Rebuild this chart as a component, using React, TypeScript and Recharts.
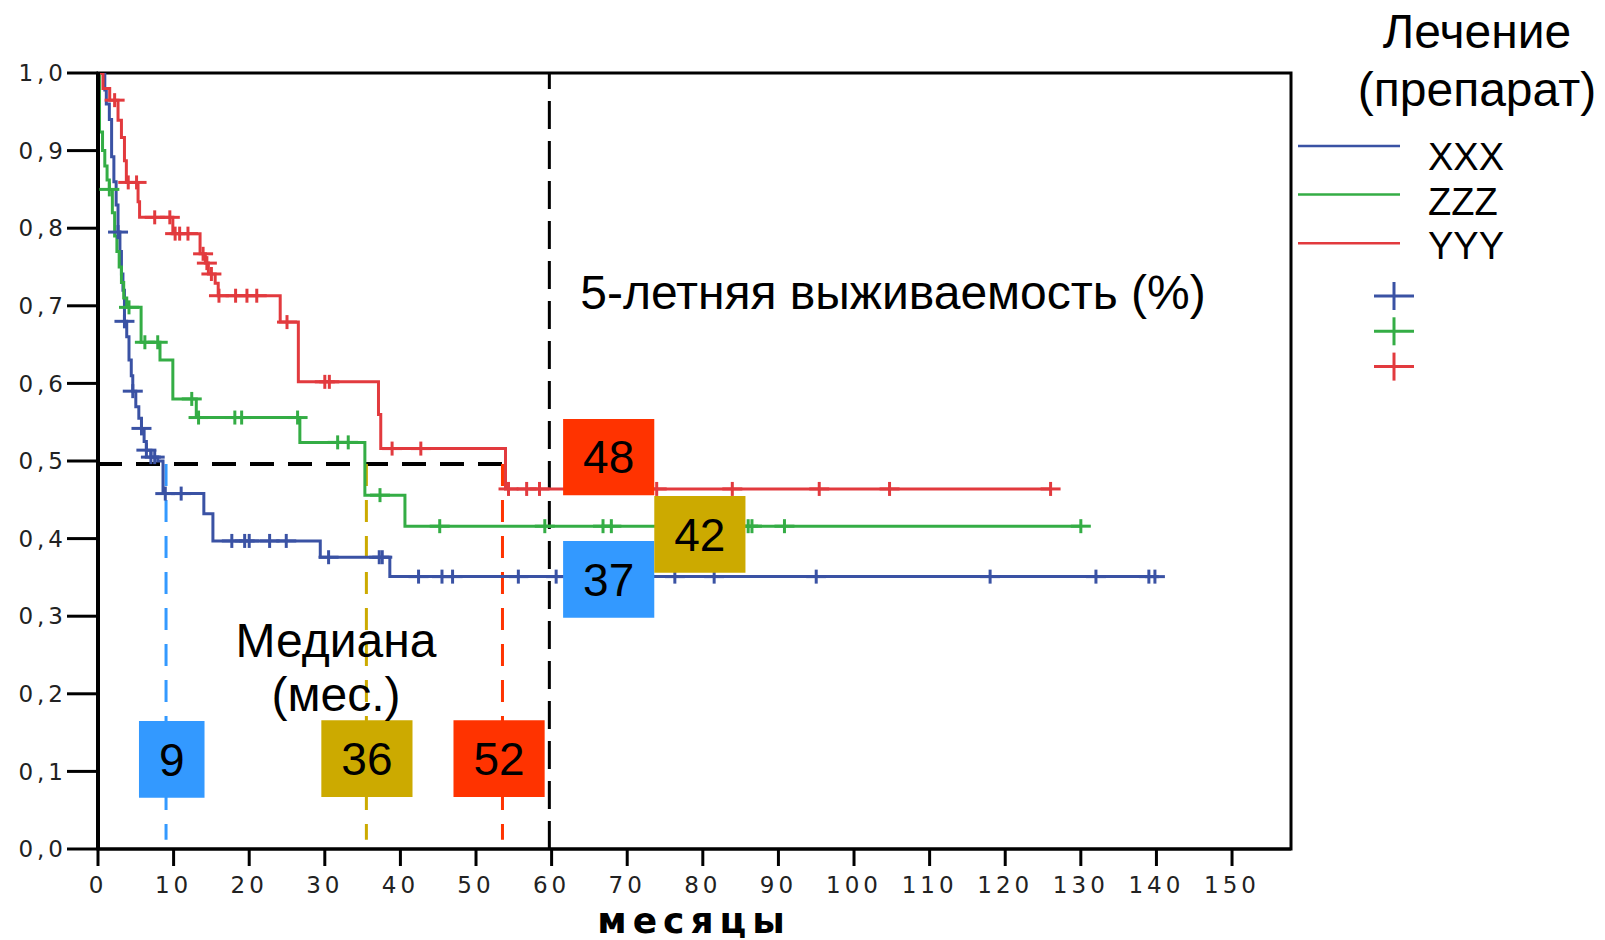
import React from 'react';
import { ComposedChart, Line, Scatter, XAxis, YAxis, ReferenceLine, ReferenceArea } from 'recharts';

const W = 1605;
const H = 940;
const X_MAX = 157.8;

const xTicks = [0, 10, 20, 30, 40, 50, 60, 70, 80, 90, 100, 110, 120, 130, 140, 150];
const yTicks = [0, 0.1, 0.2, 0.3, 0.4, 0.5, 0.6, 0.7, 0.8, 0.9, 1.0];

const seriesNames = ['XXX', 'ZZZ', 'YYY'];
const seriesColors = ['#3a52a4', '#34ad45', '#e23a3e'];

// XXX (blue) Kaplan–Meier steps
const xxxTimes = [0, 0.9, 1.1, 1.5, 1.8, 2.1, 2.4, 2.65, 2.9, 3.1, 3.3, 3.5, 3.8, 4.1, 4.4, 4.6, 5.0, 5.4, 5.75, 6.1, 6.4, 7.0, 7.9, 8.6, 14.0, 15.2, 29.4, 38.6];
const xxxSurv = [1.0, 0.978, 0.96, 0.94, 0.892, 0.86, 0.83, 0.795, 0.77, 0.741, 0.72, 0.68, 0.66, 0.63, 0.61, 0.59, 0.57, 0.555, 0.542, 0.525, 0.514, 0.505, 0.5, 0.458, 0.432, 0.397, 0.376, 0.351];
const xxxCensor = [2.65, 3.5, 4.6, 5.75, 6.4, 7.0, 7.5, 8.9, 11.0, 17.7, 19.4, 20.0, 22.7, 24.9, 30.5, 37.2, 37.6, 42.4, 45.5, 46.9, 55.6, 60.6, 76.3, 81.5, 95.0, 118.0, 132.0, 139.0, 139.8];

// ZZZ (green)
const zzzTimes = [0, 0.2, 0.6, 0.9, 1.2, 1.5, 1.9, 2.2, 2.5, 2.8, 3.1, 3.4, 3.8, 5.7, 8.2, 9.9, 13.0, 26.7, 35.3, 40.6];
const zzzSurv = [1.0, 0.924, 0.9, 0.88, 0.862, 0.85, 0.82, 0.79, 0.77, 0.75, 0.73, 0.71, 0.698, 0.653, 0.63, 0.58, 0.556, 0.524, 0.456, 0.416];
const zzzCensor = [1.5, 4.1, 6.2, 7.9, 12.4, 13.3, 18.1, 19.0, 26.4, 31.7, 33.1, 37.3, 45.2, 59.1, 66.8, 67.9, 86.0, 86.5, 90.8, 130.0];

// YYY (red)
const yyyTimes = [0, 0.66, 1.55, 2.65, 3.1, 3.5, 3.75, 5.3, 5.5, 9.9, 13.5, 14.2, 14.6, 15.5, 15.9, 24.1, 26.5, 37.1, 37.4, 53.9];
const yyySurv = [1.0, 0.98, 0.965, 0.939, 0.917, 0.887, 0.859, 0.834, 0.814, 0.793, 0.767, 0.755, 0.741, 0.729, 0.713, 0.679, 0.602, 0.56, 0.516, 0.464];
const yyyCensor = [2.2, 4.0, 5.1, 7.5, 9.5, 10.2, 10.8, 11.9, 13.9, 14.4, 15.0, 16.0, 18.2, 19.7, 21.0, 25.0, 30.0, 30.6, 38.9, 42.7, 54.3, 56.7, 58.4, 73.9, 83.9, 95.4, 104.7, 126.0];

// Medians (line positions) and labels
const medianLevel = 0.496;
const medianTimes = [9.0, 35.5, 53.5];
const medianLabels = ['9', '36', '52'];
const fiveYearLabels = ['37', '42', '48'];
const fiveYearMonth = 59.7;

const boxColors = ['#3399ff', '#ccaa00', '#ff3300'];

// annotation box layout (data units)
const medianBoxes = [
  { x1: 5.42, x2: 14.09, y1: 0.066, y2: 0.165 },
  { x1: 29.54, x2: 41.6, y1: 0.067, y2: 0.166 },
  { x1: 47.02, x2: 59.08, y1: 0.067, y2: 0.166 },
];
const fiveYearBoxes = [
  { x1: 61.52, x2: 73.58, y1: 0.298, y2: 0.397 },
  { x1: 73.58, x2: 85.64, y1: 0.356, y2: 0.455 },
  { x1: 61.52, x2: 73.58, y1: 0.456, y2: 0.554 },
];

function buildCurve(times: number[], surv: number[], censor: number[]) {
  const pts = times.map((t, i) => ({ t, s: surv[i] }));
  const end = Math.max(times[times.length - 1], ...censor);
  pts.push({ t: end, s: surv[surv.length - 1] });
  return pts;
}
function survAt(times: number[], surv: number[], t: number) {
  let v = surv[0];
  for (let i = 0; i < times.length; i++) if (times[i] <= t) v = surv[i];
  return v;
}
function buildCensor(times: number[], surv: number[], censor: number[]) {
  return censor.map((t) => ({ t, s: survAt(times, surv, t) }));
}

const curves = [
  buildCurve(xxxTimes, xxxSurv, xxxCensor),
  buildCurve(zzzTimes, zzzSurv, zzzCensor),
  buildCurve(yyyTimes, yyySurv, yyyCensor),
];
const censors = [
  buildCensor(xxxTimes, xxxSurv, xxxCensor),
  buildCensor(zzzTimes, zzzSurv, zzzCensor),
  buildCensor(yyyTimes, yyySurv, yyyCensor),
];

const makeCensorShape = (color: string) => (props: any) => {
  const { cx, cy } = props;
  if (cx == null || cy == null) return <g />;
  return (
    <g stroke={color} strokeWidth={3}>
      <line x1={cx - 10} x2={cx + 10} y1={cy} y2={cy} />
      <line x1={cx} x2={cx} y1={cy - 7} y2={cy + 7} />
    </g>
  );
};

const tickFont = { fontFamily: 'DejaVu Sans', fontSize: 23, fill: '#222', letterSpacing: 4 };
const sans = "'Liberation Sans', Arial, sans-serif";

export default function App() {
  return (
    <div style={{ position: 'absolute', left: 0, top: 0, width: W, height: H, background: '#fff' }}>
      <ComposedChart width={W} height={H} margin={{ top: 73, right: 314, bottom: 0, left: 0 }}>
        <XAxis
          type="number"
          dataKey="t"
          domain={[0, X_MAX]}
          ticks={xTicks}
          interval={0}
          allowDataOverflow
          height={91}
          tickSize={17}
          tickMargin={11}
          axisLine={{ stroke: '#000', strokeWidth: 3 }}
          tickLine={{ stroke: '#000', strokeWidth: 3 }}
          tick={tickFont}
        />
        <YAxis
          type="number"
          dataKey="s"
          domain={[0, 1]}
          ticks={yTicks}
          interval={0}
          allowDataOverflow
          width={98}
          tickSize={31}
          tickMargin={0}
          axisLine={{ stroke: '#000', strokeWidth: 4 }}
          tickLine={{ stroke: '#000', strokeWidth: 3 }}
          tick={tickFont}
          tickFormatter={(v: number) => v.toFixed(1).replace('.', ',')}
        />
        <ReferenceArea x1={0} x2={X_MAX} y1={0} y2={1} fill="none" stroke="#000" strokeWidth={3} ifOverflow="visible" />
        <ReferenceLine x={fiveYearMonth} stroke="#000" strokeWidth={3} strokeDasharray="28 12" />
        <ReferenceLine
          segment={[{ x: 0, y: medianLevel }, { x: medianTimes[2], y: medianLevel }]}
          stroke="#000"
          strokeWidth={4}
          strokeDasharray="24 14"
        />
        {medianTimes.map((m, i) => (
          <ReferenceLine
            key={'md' + i}
            segment={[{ x: m, y: medianLevel }, { x: m, y: 0.012 }]}
            stroke={boxColors[i]}
            strokeWidth={3}
            strokeDasharray="22 14"
          />
        ))}
        {curves.map((d, i) => (
          <Line
            key={'l' + i}
            data={d}
            dataKey="s"
            type="stepAfter"
            stroke={seriesColors[i]}
            strokeWidth={3}
            dot={false}
            activeDot={false}
            isAnimationActive={false}
            name={seriesNames[i]}
          />
        ))}
        {censors.map((d, i) => (
          <Scatter
            key={'c' + i}
            data={d}
            dataKey="s"
            shape={makeCensorShape(seriesColors[i])}
            isAnimationActive={false}
          />
        ))}
        {medianBoxes.map((b, i) => (
          <ReferenceArea
            key={'mb' + i}
            {...b}
            fill={boxColors[i]}
            fillOpacity={1}
            stroke="none"
            zIndex={1500}
            label={{ value: medianLabels[i], position: 'center', fontSize: 46, fill: '#000', fontFamily: sans }}
          />
        ))}
        {fiveYearBoxes.map((b, i) => (
          <ReferenceArea
            key={'fb' + i}
            {...b}
            fill={boxColors[i]}
            fillOpacity={1}
            stroke="none"
            zIndex={1500}
            label={{ value: fiveYearLabels[i], position: 'center', fontSize: 46, fill: '#000', fontFamily: sans }}
          />
        ))}
      </ComposedChart>
      <svg width={W} height={H} style={{ position: 'absolute', left: 0, top: 0, pointerEvents: 'none' }}>
        <text x={893} y={309} textAnchor="middle" fontFamily={sans} fontSize={48} fill="#000">5-летняя выживаемость (%)</text>
        <text x={336} y={657} textAnchor="middle" fontFamily={sans} fontSize={48} fill="#000">Медиана</text>
        <text x={336} y={711} textAnchor="middle" fontFamily={sans} fontSize={48} fill="#000">(мес.)</text>
        <text x={694} y={933} textAnchor="middle" fontFamily="'DejaVu Sans'" fontWeight="bold" fontSize={36} letterSpacing={6} fill="#000">месяцы</text>
        <text x={1477} y={48} textAnchor="middle" fontFamily={sans} fontSize={48} fill="#000">Лечение</text>
        <text x={1477} y={106} textAnchor="middle" fontFamily={sans} fontSize={48} fill="#000">(препарат)</text>
        {seriesNames.map((n, i) => (
          <g key={'lg' + i}>
            <line x1={1298} x2={1400} y1={146 + i * 48.6} y2={146 + i * 48.6} stroke={seriesColors[i]} strokeWidth={2.5} />
            <text x={1428} y={170 + i * 44.5} fontFamily={sans} fontSize={38} fill="#000">{n}</text>
            <g stroke={seriesColors[i]} strokeWidth={3}>
              <line x1={1374} x2={1414} y1={296 + i * 35.3} y2={296 + i * 35.3} />
              <line x1={1394} x2={1394} y1={282 + i * 35.3} y2={310 + i * 35.3} />
            </g>
          </g>
        ))}
      </svg>
    </div>
  );
}
